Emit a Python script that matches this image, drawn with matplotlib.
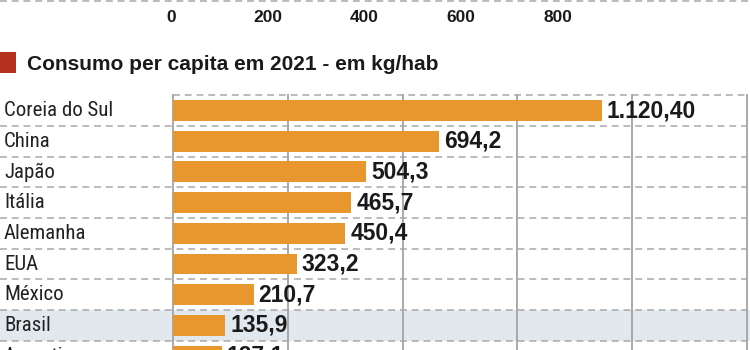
import matplotlib
matplotlib.use("Agg")
import matplotlib.pyplot as plt
import matplotlib.transforms as mtransforms
from matplotlib.patches import Rectangle
from matplotlib.lines import Line2D
from matplotlib import font_manager as fm

countries = ["Coreia do Sul", "China", "Japão", "Itália", "Alemanha", "EUA", "México", "Brasil", "Argentina"]
values = [1120.40, 694.2, 504.3, 465.7, 450.4, 323.2, 210.7, 135.9, 127.1]
value_labels = ["1.120,40", "694,2", "504,3", "465,7", "450,4", "323,2", "210,7", "135,9", "127,1"]
grid_ticks = [0, 300, 600, 900, 1200, 1500]
top_ticks = [0, 200, 400, 600, 800]
top_tick_labels = ["0", "200", "400", "600", "800"]
title = "Consumo per capita em 2021 - em kg/hab"
highlight = "Brasil"

W, H = 750, 350
fig = plt.figure(figsize=(7.5, 3.5), dpi=100)
fig.patch.set_facecolor("white")

names = {f.name for f in fm.fontManager.ttflist}
cond_name = None
for cand in ["Liberation Sans Narrow", "DejaVu Sans Condensed", "Roboto Condensed", "Open Sans Condensed"]:
    if cand in names:
        cond_name = cand
        break
has_cond_stretch = any(f.name == "DejaVu Sans" and f.stretch == "condensed" for f in fm.fontManager.ttflist)

if cond_name is not None:
    label_kw = dict(family=[cond_name, "DejaVu Sans"], fontsize=15)
elif has_cond_stretch:
    label_kw = dict(family=["DejaVu Sans"], fontstretch="condensed", fontsize=14)
else:
    label_kw = dict(family=["Liberation Sans", "DejaVu Sans"], fontsize=13.3)

bold_font = ["Liberation Sans", "DejaVu Sans"]

def fx(px):
    return px / W

def fy(py):
    return 1 - py / H

left_px, right_px, top_px = 173, 747, 95
ax = fig.add_axes([fx(left_px), 0, fx(right_px - left_px), fy(top_px)])
ax.set_xlim(0, 1500)
ax.set_ylim(7.80, -0.505)
ax.axis("off")

blend = mtransforms.blended_transform_factory(fig.transFigure, ax.transData)

hi = countries.index(highlight)
ax.add_patch(Rectangle((0, hi - 0.5), 1, 1.0, transform=blend, facecolor="#e2e9ee",
                       edgecolor="none", zorder=0, clip_on=False))

for t in grid_ticks:
    ax.plot([t, t], [-0.505, 7.8], color="#a3a3a3", lw=1.3, zorder=1, clip_on=False)

dash_kw = dict(color="#a8a8a8", lw=1.1, linestyle=(0, (4.5, 3.2)), zorder=2, clip_on=False)
ax.add_line(Line2D([fx(left_px), fx(right_px)], [-0.5, -0.5], transform=blend, **dash_kw))
for i in range(len(countries) - 1):
    ax.add_line(Line2D([0, fx(right_px)], [i + 0.5, i + 0.5], transform=blend, **dash_kw))

ypos = list(range(len(countries)))
ax.barh(ypos, values, height=0.68, color="#e8972f", zorder=3)

off = mtransforms.offset_copy(ax.transData, fig=fig, x=5, y=0, units="dots")
for y, v, lab in zip(ypos, values, value_labels):
    ax.text(v, y, lab, transform=off, ha="left", va="center", fontsize=16.5,
            fontweight="bold", family=bold_font, color="#1a1a1a", zorder=5)

for y, c in zip(ypos, countries):
    ax.text(4 / W, y, c, transform=blend, ha="left", va="center",
            color="#222222", zorder=5, **label_kw)

fig.patches.append(Rectangle((0, fy(73)), fx(16), (73 - 52) / H, transform=fig.transFigure,
                             facecolor="#b5311e", edgecolor="none"))
fig.text(fx(27), fy(65), title, ha="left", va="center", fontsize=15, fontweight="bold",
         family=bold_font, color="#1a1a1a")

ax2 = fig.add_axes([fx(170.7), fy(17), fx(387), 0.001])
ax2.set_xlim(0, 800)
ax2.axis("off")
tb = mtransforms.blended_transform_factory(ax2.transData, fig.transFigure)
for t, lab in zip(top_ticks, top_tick_labels):
    ax2.text(t, fy(17), lab, transform=tb, ha="center", va="center", fontsize=12.5,
             fontweight="bold", family=bold_font, color="#1a1a1a")
fig.add_artist(Line2D([0, 1], [fy(1), fy(1)], transform=fig.transFigure, color="#a8a8a8",
                      lw=1.1, linestyle=(0, (4.5, 3.2))))

fig.savefig("out.png", dpi=100, facecolor="white")
